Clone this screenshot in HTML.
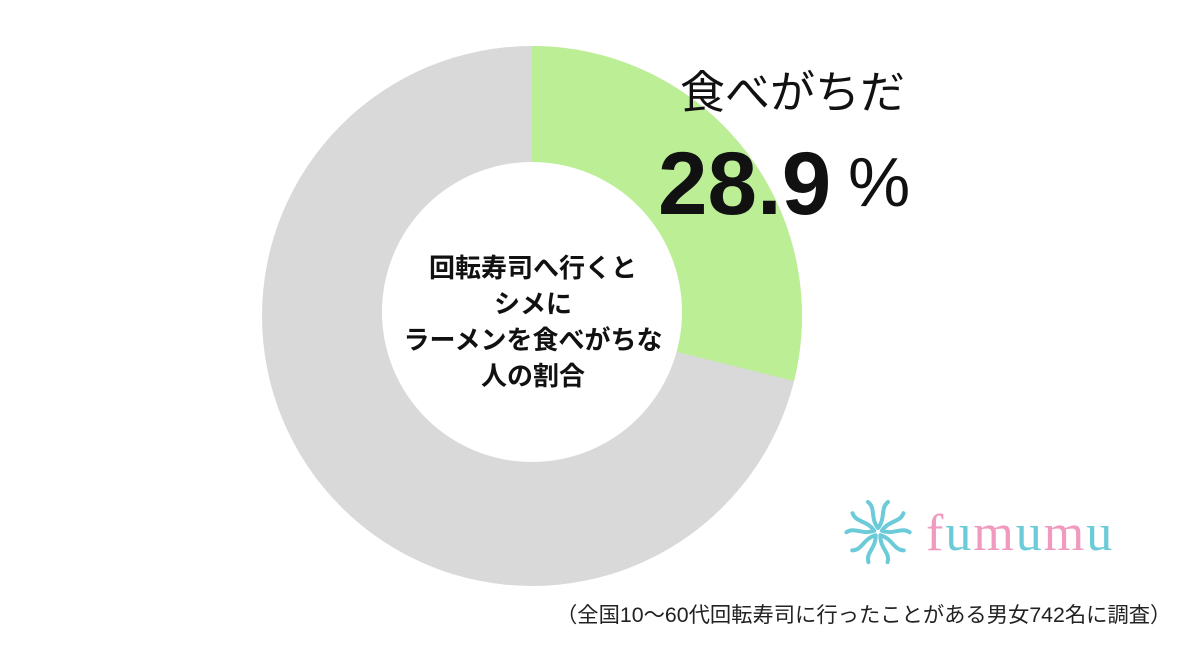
<!DOCTYPE html>
<html><head><meta charset="utf-8"><style>
body{margin:0;width:1200px;height:647px;background:#fff;overflow:hidden;position:relative;font-family:"Liberation Sans","Noto Sans CJK JP",sans-serif;}
.a{position:absolute;white-space:nowrap;color:#111;}
</style></head><body>
<svg width="1200" height="647" style="position:absolute;left:0;top:0">
<circle cx="532" cy="316" r="270" fill="#d9d9d9"/>
<path d="M532,316 L532,46 A270,270 0 0 1 794,381 Z" fill="#bbee95"/>
<circle cx="532" cy="312" r="150" fill="#fff"/>
<g fill="none" stroke="#6ccbd8" stroke-width="4" stroke-linecap="round">
<g transform="translate(878,532)">
<path d="M0,-4 C8,-14 2,-24 10,-30 M0,-4 C-8,-14 -2,-24 -10,-30" transform="rotate(0)"/>
<path d="M0,-4 C8,-14 2,-24 10,-30 M0,-4 C-8,-14 -2,-24 -10,-30" transform="rotate(72)"/>
<path d="M0,-4 C8,-14 2,-24 10,-30 M0,-4 C-8,-14 -2,-24 -10,-30" transform="rotate(144)"/>
<path d="M0,-4 C8,-14 2,-24 10,-30 M0,-4 C-8,-14 -2,-24 -10,-30" transform="rotate(216)"/>
<path d="M0,-4 C8,-14 2,-24 10,-30 M0,-4 C-8,-14 -2,-24 -10,-30" transform="rotate(288)"/>
</g></g>
</svg>
<div class="a" style="left:383px;width:300px;top:250px;text-align:center;font-size:26px;font-weight:bold;line-height:36px;">回転寿司へ行くと<br>シメに<br>ラーメンを食べがちな<br>人の割合</div>
<div class="a" style="left:680px;top:56px;font-size:45px;">食べがちだ</div>
<div class="a" style="left:658px;top:132px;font-size:89px;font-weight:bold;">28.9</div>
<div class="a" style="left:848px;top:142px;font-size:70px;">%</div>
<div class="a" style="left:926px;top:504px;font-size:52px;font-family:'Liberation Serif',serif;letter-spacing:2px;"><span style="color:#f09ac0">f</span><span style="color:#6ccbd8">u</span><span style="color:#f09ac0">m</span><span style="color:#6ccbd8">u</span><span style="color:#f09ac0">m</span><span style="color:#6ccbd8">u</span></div>
<div class="a" style="left:556px;top:598px;font-size:21.3px;color:#222;">（全国10～60代回転寿司に行ったことがある男女742名に調査）</div>
</body></html>
